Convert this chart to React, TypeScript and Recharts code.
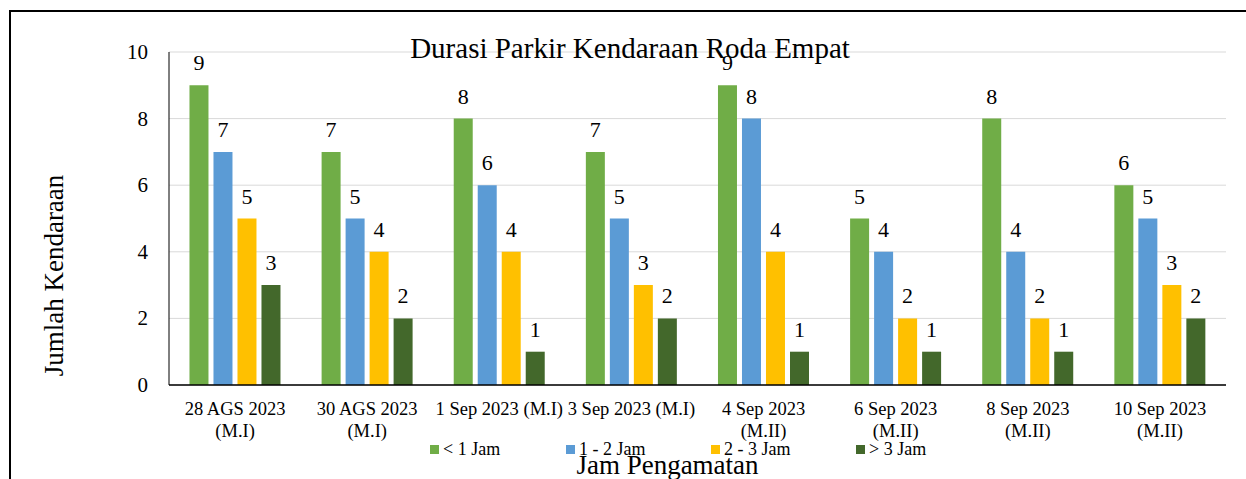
import { BarChart, Bar, XAxis, YAxis, CartesianGrid, LabelList } from 'recharts';

const FONT = '"Liberation Serif", "Times New Roman", serif';

const categories = [
  '28 AGS 2023\n(M.I)',
  '30 AGS 2023\n(M.I)',
  '1 Sep 2023 (M.I)',
  '3 Sep 2023 (M.I)',
  '4 Sep 2023\n(M.II)',
  '6 Sep 2023\n(M.II)',
  '8 Sep 2023\n(M.II)',
  '10 Sep 2023\n(M.II)',
];
const kurang1Jam = [9, 7, 8, 7, 9, 5, 8, 6];
const satuDuaJam = [7, 5, 6, 5, 8, 4, 4, 5];
const duaTigaJam = [5, 4, 4, 3, 4, 2, 2, 3];
const lebih3Jam = [3, 2, 1, 2, 1, 1, 1, 2];
const yTicks = [0, 2, 4, 6, 8, 10];

const seriesKeys = ['s0', 's1', 's2', 's3'];
const seriesNames = ['< 1 Jam', '1 - 2 Jam', '2 - 3 Jam', '> 3 Jam'];
const seriesColors = ['#70AD47', '#5B9BD5', '#FFC000', '#43682B'];

const data = categories.map((name, i) => ({
  name,
  s0: kurang1Jam[i],
  s1: satuDuaJam[i],
  s2: duaTigaJam[i],
  s3: lebih3Jam[i],
}));

// legend entry x positions, as laid out by the source chart
const legendLeft = [430, 566, 711, 856];

const CategoryTick = (props: any) => {
  const { x, y, payload } = props;
  const lines = String(payload.value).split('\n');
  return (
    <text x={x} y={y} textAnchor="middle" fontFamily={FONT} fontSize={18.5} fill="#000">
      {lines.map((line, i) => (
        <tspan key={i} x={x} dy={22}>
          {line}
        </tspan>
      ))}
    </text>
  );
};

const ValueTick = (props: any) => {
  const { x, y, payload } = props;
  return (
    <text x={x} y={y} textAnchor="end" dominantBaseline="central" fontFamily={FONT} fontSize={21} fill="#000">
      {payload.value}
    </text>
  );
};

const BarValue = (props: any) => {
  const { x, y, width, value } = props;
  return (
    <text x={x + width / 2} y={y - 15} textAnchor="middle" fontFamily={FONT} fontSize={22} fill="#000">
      {value}
    </text>
  );
};

export default function App() {
  return (
    <div
      style={{
        position: 'absolute',
        left: 0,
        top: 0,
        width: 1246,
        height: 479,
        overflow: 'hidden',
        background: '#fff',
        fontFamily: FONT,
      }}
    >
      {/* outer frame, cut off at right and bottom like the source */}
      <div
        style={{
          position: 'absolute',
          left: 9,
          top: 10,
          width: 1400,
          height: 700,
          border: '2px solid #000',
        }}
      />
      <div style={{ position: 'absolute', left: 0, top: 0 }}>
        <BarChart
          width={1246}
          height={479}
          data={data}
          margin={{ top: 52, right: 20, bottom: 0, left: 0 }}
          barCategoryGap="15.5%"
          barGap={5}
        >
          <CartesianGrid vertical={false} stroke="#d9d9d9" />
          <XAxis
            dataKey="name"
            height={94}
            tickLine={false}
            tickMargin={2}
            axisLine={{ stroke: '#000', strokeWidth: 1.5 }}
            tick={<CategoryTick />}
            interval={0}
            label={{
              content: ({ viewBox }: any) => (
                <text
                  x={viewBox.x + viewBox.width / 2 - 30}
                  y={viewBox.y + 89}
                  textAnchor="middle"
                  fontFamily={FONT}
                  fontSize={27}
                  fill="#000"
                >
                  Jam Pengamatan
                </text>
              ),
            }}
          />
          <YAxis
            width={169}
            domain={[0, 10]}
            ticks={yTicks}
            tickLine={false}
            tickMargin={15}
            axisLine={{ stroke: '#000' }}
            tick={<ValueTick />}
            label={{
              content: ({ viewBox }: any) => {
                const cx = 54;
                const cy = viewBox.y + viewBox.height / 2 + 57;
                return (
                  <text
                    x={cx}
                    y={cy}
                    transform={`rotate(-90, ${cx}, ${cy})`}
                    textAnchor="middle"
                    dominantBaseline="central"
                    fontFamily={FONT}
                    fontSize={27}
                    fill="#000"
                  >
                    Jumlah Kendaraan
                  </text>
                );
              },
            }}
          />
          {seriesKeys.map((key, i) => (
            <Bar key={key} dataKey={key} name={seriesNames[i]} fill={seriesColors[i]} isAnimationActive={false}>
              <LabelList dataKey={key} content={<BarValue />} />
            </Bar>
          ))}
          <text x={630} y={58} textAnchor="middle" fontFamily={FONT} fontSize={29} fill="#000">
            Durasi Parkir Kendaraan Roda Empat
          </text>
        </BarChart>
      </div>
      {/* legend */}
      {seriesNames.map((name, i) => (
        <div
          key={name}
          style={{
            position: 'absolute',
            left: legendLeft[i],
            top: 439,
            display: 'flex',
            alignItems: 'center',
            fontSize: 18,
            lineHeight: '20px',
            color: '#000',
            whiteSpace: 'pre',
          }}
        >
          <span style={{ display: 'inline-block', width: 9, height: 9, background: seriesColors[i], marginRight: 4 }} />
          {name}
        </div>
      ))}
    </div>
  );
}
